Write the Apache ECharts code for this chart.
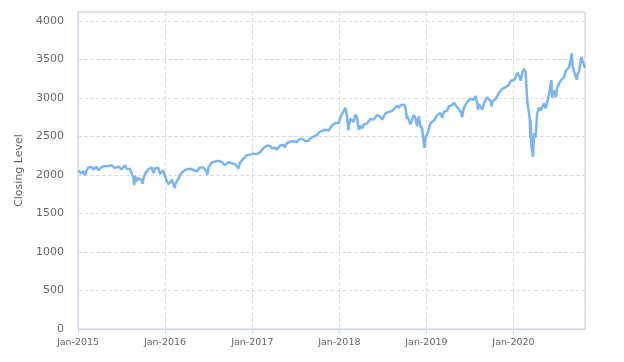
<!DOCTYPE html>
<html><head><meta charset="utf-8">
<script src="https://cdn.jsdelivr.net/npm/echarts@6/dist/echarts.min.js"></script>
<style>html,body{margin:0;padding:0;background:#fff}#c{width:624px;height:362px}</style>
</head><body><div id="c"></div>
<script>
const dates = [
'2015-01-02','2015-01-09','2015-01-16','2015-01-23','2015-01-30','2015-02-06','2015-02-13','2015-02-20','2015-02-27','2015-03-06','2015-03-13','2015-03-20','2015-03-27','2015-04-03','2015-04-10','2015-04-17','2015-04-24','2015-05-01','2015-05-08','2015-05-15','2015-05-22','2015-05-29','2015-06-05','2015-06-12','2015-06-19','2015-06-26','2015-07-03','2015-07-10','2015-07-17','2015-07-24','2015-07-31','2015-08-07','2015-08-14','2015-08-21','2015-08-25','2015-08-28','2015-09-04','2015-09-11','2015-09-18','2015-09-25','2015-09-29','2015-10-02','2015-10-09','2015-10-16','2015-10-23','2015-10-30','2015-11-06','2015-11-13','2015-11-20','2015-11-27','2015-12-04','2015-12-11','2015-12-18','2015-12-24','2015-12-31',
'2016-01-08','2016-01-15','2016-01-20','2016-01-22','2016-01-29','2016-02-05','2016-02-11','2016-02-12','2016-02-19','2016-02-26','2016-03-04','2016-03-11','2016-03-18','2016-03-24','2016-04-01','2016-04-08','2016-04-15','2016-04-22','2016-04-29','2016-05-06','2016-05-13','2016-05-20','2016-05-27','2016-06-03','2016-06-10','2016-06-17','2016-06-24','2016-06-27','2016-07-01','2016-07-08','2016-07-15','2016-07-22','2016-07-29','2016-08-05','2016-08-12','2016-08-19','2016-08-26','2016-09-02','2016-09-09','2016-09-16','2016-09-23','2016-09-30','2016-10-07','2016-10-14','2016-10-21','2016-10-28','2016-11-04','2016-11-11','2016-11-18','2016-11-25','2016-12-02','2016-12-09','2016-12-16','2016-12-23','2016-12-30',
'2017-01-06','2017-01-13','2017-01-20','2017-01-27','2017-02-03','2017-02-10','2017-02-17','2017-02-24','2017-03-03','2017-03-10','2017-03-17','2017-03-24','2017-03-31','2017-04-07','2017-04-13','2017-04-21','2017-04-28','2017-05-05','2017-05-12','2017-05-17','2017-05-26','2017-06-02','2017-06-09','2017-06-16','2017-06-23','2017-06-30','2017-07-07','2017-07-14','2017-07-21','2017-07-28','2017-08-04','2017-08-11','2017-08-18','2017-08-25','2017-09-01','2017-09-08','2017-09-15','2017-09-22','2017-09-29','2017-10-06','2017-10-13','2017-10-20','2017-10-27','2017-11-03','2017-11-10','2017-11-17','2017-11-24','2017-12-01','2017-12-08','2017-12-15','2017-12-22','2017-12-29',
'2018-01-05','2018-01-12','2018-01-19','2018-01-26','2018-02-02','2018-02-08','2018-02-09','2018-02-16','2018-02-23','2018-03-02','2018-03-09','2018-03-16','2018-03-23','2018-03-29','2018-04-06','2018-04-13','2018-04-20','2018-04-27','2018-05-04','2018-05-11','2018-05-18','2018-05-25','2018-06-01','2018-06-08','2018-06-15','2018-06-22','2018-06-29','2018-07-06','2018-07-13','2018-07-20','2018-07-27','2018-08-03','2018-08-10','2018-08-17','2018-08-24','2018-08-31','2018-09-07','2018-09-14','2018-09-21','2018-09-28','2018-10-05','2018-10-11','2018-10-12','2018-10-19','2018-10-26','2018-11-02','2018-11-09','2018-11-16','2018-11-23','2018-11-30','2018-12-07','2018-12-14','2018-12-21','2018-12-24','2018-12-28',
'2019-01-04','2019-01-11','2019-01-18','2019-01-25','2019-02-01','2019-02-08','2019-02-15','2019-02-22','2019-03-01','2019-03-08','2019-03-15','2019-03-22','2019-03-29','2019-04-05','2019-04-12','2019-04-18','2019-04-26','2019-05-03','2019-05-10','2019-05-17','2019-05-24','2019-05-31','2019-06-07','2019-06-14','2019-06-21','2019-06-28','2019-07-05','2019-07-12','2019-07-19','2019-07-26','2019-08-02','2019-08-05','2019-08-09','2019-08-16','2019-08-23','2019-08-30','2019-09-06','2019-09-13','2019-09-20','2019-09-27','2019-10-02','2019-10-04','2019-10-11','2019-10-18','2019-10-25','2019-11-01','2019-11-08','2019-11-15','2019-11-22','2019-11-29','2019-12-06','2019-12-13','2019-12-20','2019-12-27',
'2020-01-03','2020-01-10','2020-01-17','2020-01-24','2020-01-31','2020-02-07','2020-02-14','2020-02-19','2020-02-21','2020-02-28','2020-03-06','2020-03-09','2020-03-12','2020-03-13','2020-03-16','2020-03-20','2020-03-23','2020-03-27','2020-04-03','2020-04-09','2020-04-17','2020-04-24','2020-05-01','2020-05-08','2020-05-15','2020-05-22','2020-05-29','2020-06-05','2020-06-08','2020-06-11','2020-06-12','2020-06-19','2020-06-26','2020-07-02','2020-07-10','2020-07-17','2020-07-24','2020-07-31','2020-08-07','2020-08-14','2020-08-21','2020-08-28','2020-09-02','2020-09-04','2020-09-11','2020-09-18','2020-09-23','2020-09-25','2020-10-02','2020-10-09','2020-10-12','2020-10-16','2020-10-23','2020-10-27'
];
const closes = [
2058,2044,2019,2051,1995,2055,2097,2110,2104,2071,2053,2108,2061,2067,2102,2081,2117,2108,2116,2123,2126,2107,2092,2094,2110,2102,2076,2077,2127,2080,2104,2078,2092,1971,1867,1989,1921,1961,1958,1931,1884,1951,2015,2033,2075,2079,2099,2023,2089,2090,2092,2012,2006,2061,2044,
1922,1880,1859,1907,1940,1880,1829,1865,1918,1948,2000,2022,2050,2035,2073,2048,2081,2092,2065,2057,2047,2053,2099,2099,2096,2071,2037,2001,2103,2130,2162,2175,2174,2183,2184,2184,2169,2180,2128,2139,2165,2168,2153,2133,2141,2126,2085,2164,2182,2213,2192,2260,2258,2264,2239,
2277,2275,2271,2295,2297,2316,2351,2367,2383,2373,2378,2344,2363,2355,2329,2349,2384,2399,2391,2357,2416,2439,2432,2433,2438,2423,2425,2459,2473,2472,2477,2441,2426,2443,2477,2461,2500,2502,2519,2549,2553,2575,2581,2588,2582,2579,2603,2642,2652,2676,2684,2674,
2743,2787,2810,2873,2762,2581,2620,2732,2747,2691,2786,2752,2588,2641,2604,2656,2670,2670,2663,2728,2713,2721,2735,2779,2780,2755,2718,2760,2801,2802,2819,2840,2833,2850,2875,2902,2872,2905,2930,2914,2885,2729,2767,2768,2658,2723,2781,2736,2633,2760,2633,2600,2417,2351,2486,
2532,2596,2671,2665,2707,2708,2776,2793,2804,2743,2822,2801,2834,2893,2907,2905,2940,2946,2881,2860,2826,2752,2873,2887,2950,2942,2990,3014,2977,3026,2932,2845,2919,2889,2847,2926,2979,3007,2992,2962,2888,2952,2970,2986,3023,3067,3093,3120,3110,3141,3146,3169,3221,3240,
3235,3265,3330,3295,3226,3328,3380,3386,3338,2954,2972,2747,2481,2711,2386,2305,2237,2541,2489,2790,2875,2837,2831,2930,2864,2955,3044,3194,3232,3002,3041,3098,3009,3130,3185,3225,3216,3271,3351,3373,3397,3508,3580,3427,3341,3319,3237,3298,3348,3477,3535,3484,3465,3391
];
const yTicks = [0,500,1000,1500,2000,2500,3000,3500,4000];
const yAxisTitle = 'Closing Level';

const chart = echarts.init(document.getElementById('c'), null, {renderer:'canvas'});
const data = dates.map((d,i)=>[d, closes[i]]);
const font = 'DejaVu Sans';
chart.setOption({
  animation:false,
  grid:{left:78,right:39,top:12,bottom:33,show:true,borderColor:'#cccccc',borderWidth:1,backgroundColor:'transparent'},
  xAxis:{
    type:'time',
    min:'2015-01-01',
    max:dates[dates.length-1],
    minInterval:365*86400000,
    axisLine:{show:true,lineStyle:{color:'#ccd6eb',width:1}},
    axisTick:{show:true,length:5,lineStyle:{color:'#ccd6eb'}},
    splitLine:{show:true,lineStyle:{color:'#dddddd',type:'dashed'}},
    axisLabel:{color:'#666',fontSize:9.5,fontFamily:font,margin:9,
      formatter:function(v){const d=new Date(v);return 'Jan-'+d.getFullYear();}}
  },
  yAxis:{
    type:'value',
    min:0,
    max:yTicks[yTicks.length-1]*317/308,
    interval:500,
    name:yAxisTitle,
    nameLocation:'middle',
    nameGap:44,
    nameTextStyle:{color:'#666',fontSize:11,fontFamily:font},
    axisLine:{show:true,lineStyle:{color:'#ccd6eb'}},
    axisTick:{show:false},
    splitLine:{show:true,lineStyle:{color:'#dddddd',type:'dashed'}},
    axisLabel:{color:'#666',fontSize:11,fontFamily:font,margin:14,showMaxLabel:false,
      formatter:function(v){return String(Math.round(v));}}
  },
  series:[{
    type:'line',
    data:data,
    showSymbol:false,
    symbol:'none',
    lineStyle:{color:'#7cb5ec',width:2.5},
    itemStyle:{color:'#7cb5ec'}
  }]
});
</script></body></html>
